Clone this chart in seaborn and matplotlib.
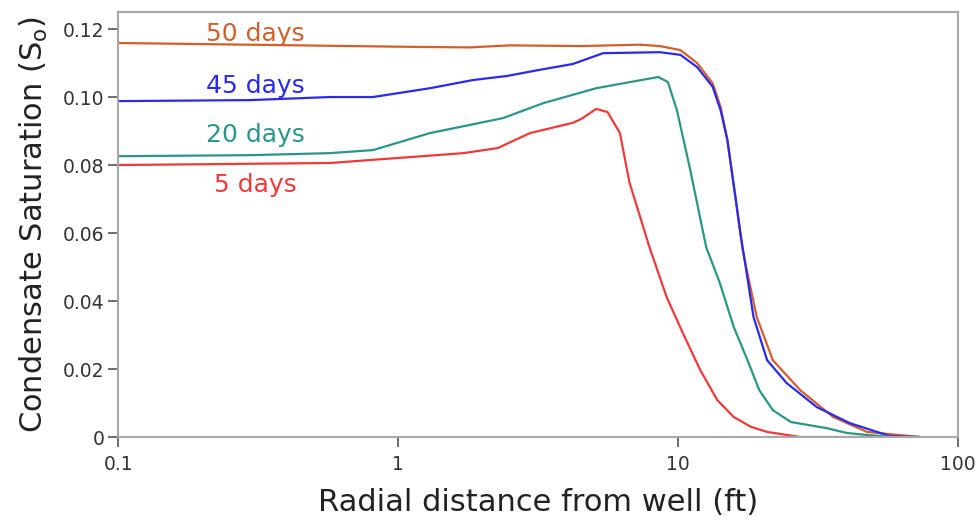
import numpy as np
import pandas as pd
import matplotlib
matplotlib.use("Agg")
import matplotlib.pyplot as plt
import seaborn as sns

# radial distance (ft) and condensate saturation
r_50 = [0.1, 0.447, 1.02, 1.8, 2.5, 4.5, 7.3, 8.6, 10.2, 11.7, 13.3, 14.2, 15.0, 16.0, 17.0, 19.1, 21.8, 27.3, 35.8, 47.3, 73.0]
so_50 = [0.1159, 0.1152, 0.1148, 0.1146, 0.1152, 0.115, 0.1154, 0.115, 0.1138, 0.110, 0.104, 0.097, 0.0874, 0.071, 0.055, 0.0353, 0.0226, 0.0138, 0.0059, 0.0015, 0.0]

r_45 = [0.1, 0.296, 0.571, 0.814, 1.3, 1.85, 2.45, 3.2, 4.2, 5.4, 8.6, 10.2, 11.7, 13.3, 14.2, 15.0, 16.0, 16.7, 18.6, 20.8, 24.4, 31.3, 41.0, 57.0, 73.0]
so_45 = [0.0988, 0.0991, 0.1, 0.1, 0.1026, 0.105, 0.1062, 0.108, 0.1097, 0.1129, 0.1132, 0.1124, 0.1088, 0.103, 0.096, 0.0874, 0.071, 0.06, 0.0353, 0.0226, 0.0159, 0.0088, 0.0041, 0.0003, 0.0]

r_20 = [0.1, 0.296, 0.571, 0.814, 1.3, 2.37, 3.3, 5.1, 8.5, 9.2, 9.9, 11.0, 12.6, 14.1, 15.8, 17.7, 19.5, 21.8, 25.3, 34.0, 40.0, 47.3, 58.5, 73.0]
so_20 = [0.0826, 0.0829, 0.0835, 0.0844, 0.0894, 0.0938, 0.0982, 0.1026, 0.1059, 0.1044, 0.0962, 0.0794, 0.0559, 0.0453, 0.0324, 0.0226, 0.0138, 0.0079, 0.0044, 0.0026, 0.0012, 0.0006, 0.0, 0.0]

r_5 = [0.1, 0.571, 1.71, 2.27, 2.96, 4.2, 4.5, 5.1, 5.6, 6.2, 6.7, 7.9, 9.1, 10.4, 12.0, 13.8, 15.8, 18.2, 20.8, 27.3, 73.0]
so_5 = [0.08, 0.0806, 0.0835, 0.085, 0.0894, 0.0924, 0.0935, 0.0965, 0.0956, 0.0894, 0.075, 0.0559, 0.0412, 0.0306, 0.0197, 0.0109, 0.0059, 0.003, 0.0015, 0.0, 0.0]

series = ["50 days", "45 days", "20 days", "5 days"]
colors = ["#D2602C", "#2A2AEE", "#2A968A", "#F03A3A"]
label_y = [0.1165, 0.1012, 0.0868, 0.0721]

frames = []
for name, r, so in zip(series, [r_50, r_45, r_20, r_5], [so_50, so_45, so_20, so_5]):
    frames.append(pd.DataFrame({"r": r, "so": so, "series": name}))
df = pd.concat(frames, ignore_index=True)

sns.set_style("white")
plt.rcParams["font.family"] = ["DejaVu Sans"]

fig = plt.figure(figsize=(9.76, 5.24), dpi=100)
ax = fig.add_axes([0.121, 0.166, 0.8606, 0.811])

sns.lineplot(data=df, x="r", y="so", hue="series", palette=dict(zip(series, colors)),
             sort=False, estimator=None, legend=False, linewidth=1.6, ax=ax)

ax.set_xscale("log")
ax.set_xlim(0.1, 100)
ax.set_ylim(0, 0.125)
ax.set_xticks([0.1, 1, 10, 100])
ax.set_xticklabels(["0.1", "1", "10", "100"])
ax.minorticks_off()
ax.set_yticks([0, 0.02, 0.04, 0.06, 0.08, 0.10, 0.12])
ax.set_yticklabels(["0", "0.02", "0.04", "0.06", "0.08", "0.10", "0.12"])

for s in ax.spines.values():
    s.set_color("#A8A8A8")
    s.set_linewidth(1.5)
ax.tick_params(axis="both", bottom=True, left=True, direction="out", length=7, width=1.3,
               color="#606060", labelsize=13.5, labelcolor="#333333", pad=3)
ax.tick_params(axis="x", pad=6)

ax.set_xlabel("Radial distance from well (ft)", fontsize=22, color="#222222", labelpad=10)
ax.set_ylabel("Condensate Saturation (S$_\\mathregular{o}$)", fontsize=22, color="#222222", labelpad=9)

# curve labels
for name, c, yy in zip(series, colors, label_y):
    ax.text(0.31, yy, name, color=c, fontsize=18, ha="center", va="baseline")

fig.savefig("out.png", dpi=100)
